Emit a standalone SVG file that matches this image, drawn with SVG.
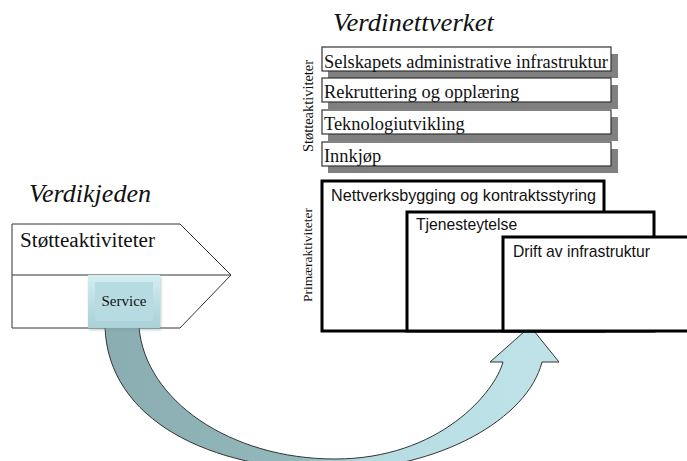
<svg xmlns="http://www.w3.org/2000/svg" width="687" height="461" viewBox="0 0 687 461">
  <style>
    .title { font-family: "Liberation Serif", "Times New Roman", serif; font-style: italic; font-size: 25px; fill: #111; }
    .serif { font-family: "Liberation Serif", "Times New Roman", serif; fill: #111; }
    .sans { font-family: "Liberation Sans", Arial, sans-serif; font-size: 15.7px; fill: #111; }
    .sup { fill: #fff; stroke: #333; stroke-width: 1.2; }
    .shadow { fill: #808080; }
    .prim { fill: #fff; stroke: #000; stroke-width: 3; }
    .chev { fill: #fff; stroke: #333; stroke-width: 1; }
    .flow { stroke: #333; stroke-width: 1; }
  </style>
  <defs>
    <linearGradient id="flowFill" x1="0" y1="0" x2="1" y2="0">
      <stop offset="0" stop-color="#89adb0"/>
      <stop offset="0.42" stop-color="#93b8bb"/>
      <stop offset="0.58" stop-color="#b6dce1"/>
      <stop offset="1" stop-color="#bfe3e8"/>
    </linearGradient>
    <linearGradient id="bevelV" x1="0" y1="0" x2="0" y2="1">
      <stop offset="0" stop-color="#d4eef1"/>
      <stop offset="1" stop-color="#a8d0d6"/>
    </linearGradient>
    <filter id="soft" x="-20%" y="-20%" width="140%" height="140%">
      <feGaussianBlur stdDeviation="1.5"/>
    </filter>
  </defs>

  <!-- headings -->
  <text class="title" x="333" y="31" font-size="26" textLength="161" lengthAdjust="spacingAndGlyphs">Verdinettverket</text>
  <text class="title" x="29" y="202" textLength="122" lengthAdjust="spacingAndGlyphs">Verdikjeden</text>

  <!-- value chain chevron -->
  <g id="verdikjeden">
    <polygon class="chev" points="12,224 180,224 231,275 180,328 12,328"/>
    <line x1="12" y1="275" x2="231" y2="275" stroke="#333" stroke-width="1"/>
    <text class="serif" x="20" y="247" font-size="20" textLength="135" lengthAdjust="spacingAndGlyphs">Støtteaktiviteter</text>
  </g>

  <!-- flow from Service to the network -->
  <g id="connectors">
    <path class="flow" fill="url(#flowFill)" d="M105 327 C108 420 210 470 332 470 C440 470 528 418 542 362 L559 362 L534 331 L525 331 L490 362 L503 362 C495 392 440 459 335 459 C230 459 145 400 139 327 Z"/>
  </g>

  <!-- Service box -->
  <g id="service">
    <rect x="89" y="277" width="72" height="53" fill="#7a9a9e" opacity="0.5" filter="url(#soft)"/>
    <rect x="88" y="275" width="72" height="53" fill="url(#bevelV)"/>
    <rect x="95" y="282" width="58" height="39" fill="#b6dce1"/>
    <text class="serif" x="124" y="306" font-size="15" text-anchor="middle">Service</text>
  </g>

  <!-- support activities -->
  <g id="stotteaktiviteter">
    <text class="serif" transform="translate(313,106) rotate(-90)" font-size="14" text-anchor="middle" textLength="92" lengthAdjust="spacingAndGlyphs">Støtteaktiviteter</text>
  </g>
  <g id="infrastruktur-adm">
    <rect class="shadow" x="328" y="54" width="290" height="24"/>
    <rect class="sup" x="322" y="47" width="289" height="24"/>
    <text class="serif" x="324" y="68" font-size="18.4" textLength="284" lengthAdjust="spacingAndGlyphs">Selskapets administrative infrastruktur</text>
  </g>
  <g id="rekruttering">
    <rect class="shadow" x="328" y="85" width="290" height="24"/>
    <rect class="sup" x="322" y="78" width="289" height="24"/>
    <text class="serif" x="324" y="98" font-size="18.4">Rekruttering og opplæring</text>
  </g>
  <g id="teknologi">
    <rect class="shadow" x="328" y="117" width="290" height="24"/>
    <rect class="sup" x="322" y="110" width="289" height="24"/>
    <text class="serif" x="324" y="130" font-size="18.4">Teknologiutvikling</text>
  </g>
  <g id="innkjop">
    <rect class="shadow" x="328" y="149" width="290" height="24"/>
    <rect class="sup" x="322" y="142" width="289" height="24"/>
    <text class="serif" x="324" y="162" font-size="18.4">Innkjøp</text>
  </g>

  <!-- primary activities -->
  <g id="primaeraktiviteter">
    <text class="serif" transform="translate(312,255) rotate(-90)" font-size="13" text-anchor="middle" textLength="94" lengthAdjust="spacingAndGlyphs">Primæraktiviteter</text>
  </g>
  <g id="nettverksbygging">
    <rect class="prim" x="322" y="181" width="282" height="150"/>
    <text class="sans" x="331" y="201" textLength="265" lengthAdjust="spacingAndGlyphs">Nettverksbygging og kontraktsstyring</text>
  </g>
  <g id="tjenesteytelse">
    <rect class="prim" x="407" y="212" width="247" height="119"/>
    <text class="sans" x="416" y="230">Tjenesteytelse</text>
  </g>
  <g id="drift">
    <rect class="prim" x="503" y="237" width="190" height="94"/>
    <text class="sans" x="513" y="257">Drift av infrastruktur</text>
  </g>
</svg>
